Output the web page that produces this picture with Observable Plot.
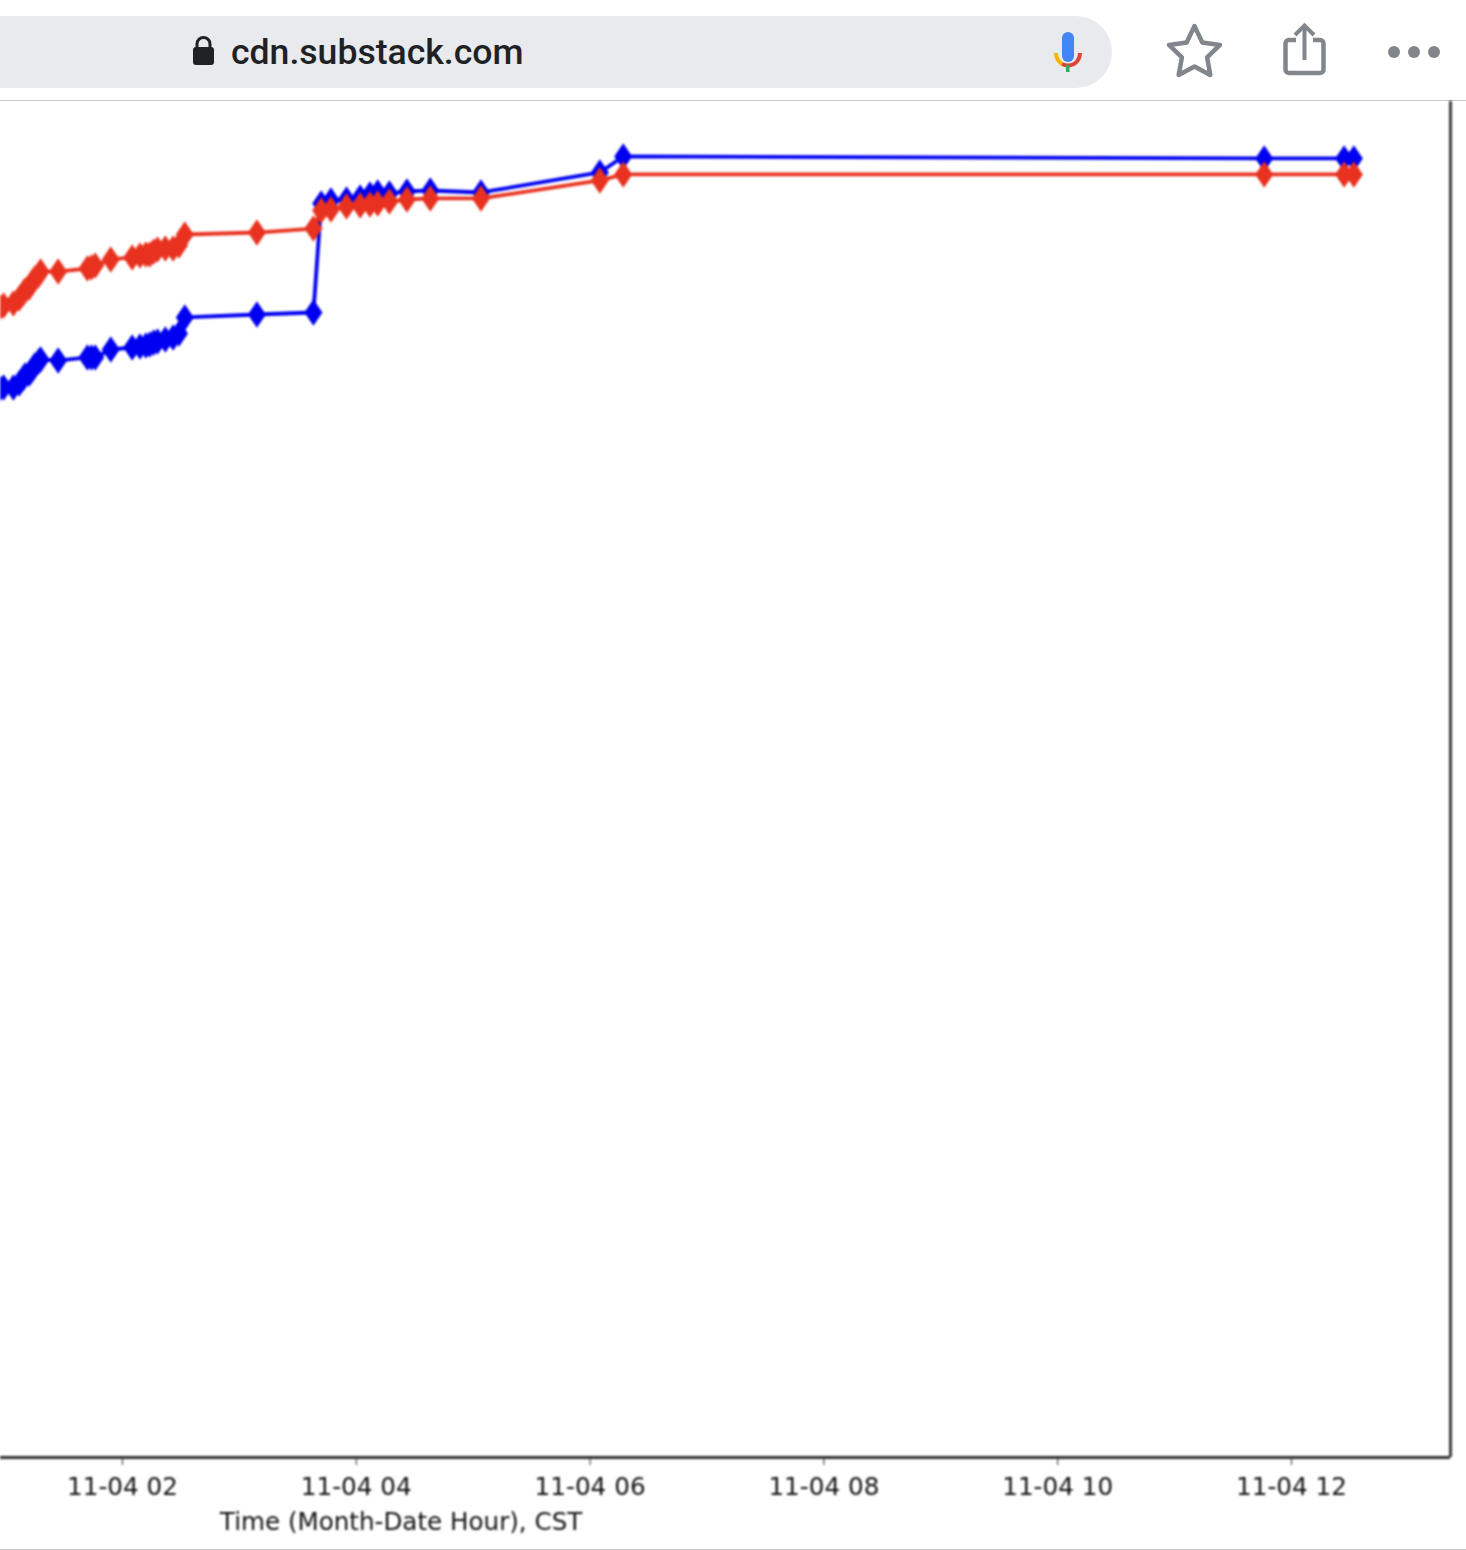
<!DOCTYPE html>
<html>
<head>
<meta charset="utf-8">
<script src="https://cdn.jsdelivr.net/npm/d3@7"></script>
<script src="https://cdn.jsdelivr.net/npm/@observablehq/plot@0.6"></script>
<style>
  html, body { margin: 0; padding: 0; background: #fff; }
  #page { position: relative; width: 1466px; height: 1550px; overflow: hidden; }
  #bar { position: relative; height: 100px; border-bottom: 1px solid #c9c9c9; box-sizing: content-box; }
  #pill { position: absolute; left: -40px; top: 16px; width: 1152px; height: 72px; background: #e8eaed; border-radius: 36px; }
  #url { position: absolute; left: 231px; top: 32px; font: 500 35.600px/40px Roboto, sans-serif; color: #202124; }
  #icons { position: absolute; left: 0; top: 0; }
  #chart { position: absolute; left: 0; top: 101px; filter: blur(0.8px); }
  #foot { position: absolute; left: 0; top: 1549px; width: 1466px; height: 1px; background: #c9c9c9; }
</style>
</head>
<body>
<div id="page">
  <div id="bar">
    <div id="pill"></div>
    <div id="url">cdn.substack.com</div>
    <svg id="icons" width="1466" height="100">
      <g fill="#202124">
        <rect x="193" y="47" width="21" height="18" rx="3"/>
        <path d="M197 48v-4a6.500 6.500 0 0 1 13 0v4" fill="none" stroke="#202124" stroke-width="3"/>
      </g>
      <rect x="1062" y="32" width="12" height="30" rx="6" fill="#4285f4"/>
      <path d="M1056 53a12 13 0 0 0 6 11" fill="none" stroke="#f4b400" stroke-width="4"/>
      <path d="M1062 64a12 10 0 0 0 12 0a12 13 0 0 0 6 -11" fill="none" stroke="#db4437" stroke-width="4"/>
      <rect x="1066" y="65" width="3.500" height="7" fill="#34a853"/>
      <path d="M1194.500 26l7.800 16.500 17.700 2.400-12.900 12.500 3.200 17.600-15.800-8.600-15.800 8.600 3.200-17.600-12.900-12.500 17.700-2.400z" fill="none" stroke="#80868b" stroke-width="4.500" stroke-linejoin="round"/>
      <path d="M1296 40h-7a3.500 3.500 0 0 0-3.500 3.500v26a3.500 3.500 0 0 0 3.500 3.500h31a3.500 3.500 0 0 0 3.500-3.500v-26a3.500 3.500 0 0 0-3.500-3.500h-7" fill="none" stroke="#80868b" stroke-width="4.500"/>
      <path d="M1304.500 27v33M1295 35l9.500-9.500 9.500 9.500" fill="none" stroke="#80868b" stroke-width="4"/>
      <g fill="#80868b"><circle cx="1394" cy="52" r="6"/><circle cx="1414" cy="52" r="6"/><circle cx="1434" cy="52" r="6"/></g>
    </svg>
  </div>
  <div id="chart"></div>
  <div id="foot"></div>
</div>
<script>
// Report times on 11-04, CST
const times = ["00:57","00:59","01:04","01:07","01:09","01:10","01:12","01:13","01:14","01:15","01:17","01:18","01:27","01:42","01:44","01:46","01:54",
  "02:05","02:09","02:12","02:14","02:16","02:18","02:22","02:26","02:29","02:32","03:09","03:38","03:42","03:47","03:55",
  "04:02","04:07","04:11","04:17","04:26","04:38","05:04","06:05","06:17","11:46","12:27","12:32"];
// Vote counts, thousands
const blueVotes = [1340.5,1341.8,1341.8,1346.8,1353,1356.8,1359,1361.8,1365.6,1369.4,1374.4,1376.9,1375.6,1379.4,1379.4,1379.4,1389.4,
  1391.9,1393.2,1394.4,1395.7,1398,1399.5,1402,1404.5,1409.5,1429.6,1433.3,1435.8,1572.5,1576.3,1577.5,
  1580,1583.8,1586.3,1585.1,1587.6,1588.8,1586.3,1611.4,1631.5,1629,1629,1629];
const redVotes = [1442.1,1444.6,1447.1,1453.4,1459.7,1463.4,1467,1470.9,1474.6,1478.5,1483,1487.2,1487.2,1491,1492.3,1494.8,1502.3,
  1504.8,1507.3,1508.6,1508.6,1512,1514.8,1516.1,1516.1,1519.8,1533.6,1536.1,1541.1,1563.7,1565,1568.7,
  1570,1571.3,1572.5,1575,1577.5,1578.8,1578.8,1601.4,1608.9,1608.9,1608.9,1608.9];
const tickHours = ["02:00","04:00","06:00","08:00","10:00","12:00"];
const axisTitle = "Time (Month-Date Hour), CST";

const toDate = (t) => new Date(`2020-11-04T${t}:00Z`);
const blue = times.map((t, i) => ({time: toDate(t), votes: blueVotes[i]}));
const red = times.map((t, i) => ({time: toDate(t), votes: redVotes[i]}));

const xDomain = [new Date("2020-11-04T00:57:24Z"), new Date("2020-11-04T13:21:36Z")];
const yDomain = [0, 1700.4];

// matplotlib-style thin diamond
const thinDiamond = {
  draw(ctx, size) {
    const r = Math.sqrt(size / Math.PI);
    ctx.moveTo(0, -r);
    ctx.lineTo(r * 0.68, 0);
    ctx.lineTo(0, r);
    ctx.lineTo(-r * 0.68, 0);
    ctx.closePath();
  }
};

const BLUE = "#0000f0", RED = "#e8321f", INK = "#111111", AXIS = "#2e2e2e";
const series = (data, color) => [
  Plot.line(data, {x: "time", y: "votes", stroke: color, strokeWidth: 3.800, curve: "linear", clip: true}),
  Plot.dot(data, {x: "time", y: "votes", fill: color, stroke: color, strokeWidth: 2, r: 11.500, symbol: thinDiamond, clip: true})
];

const chart = Plot.plot({
  width: 1466,
  height: 1448,
  marginTop: 0,
  marginLeft: 0,
  marginRight: 16,
  marginBottom: 92,
  style: {background: "transparent", overflow: "visible"},
  x: {type: "utc", domain: xDomain},
  y: {domain: yDomain, axis: null},
  marks: [
    ...series(blue, BLUE),
    ...series(red, RED),
    Plot.ruleY([0], {stroke: AXIS, strokeWidth: 2.800}),
    Plot.ruleX([xDomain[1]], {stroke: AXIS, strokeWidth: 2.800}),
    Plot.axisX({
      ticks: tickHours.map(toDate),
      tickFormat: d3.utcFormat("%m-%d %H"),
      tickSize: 8,
      tickPadding: 12,
      label: null,
      stroke: AXIS,
      fill: INK,
      fontFamily: "DejaVu Sans",
      fontSize: 24.700
    }),
    Plot.text([axisTitle], {
      x: () => new Date("2020-11-04T04:23:00Z"),
      frameAnchor: "bottom",
      dy: 72,
      fontFamily: "DejaVu Sans",
      fontSize: 24.600,
      fill: INK
    })
  ]
});
document.getElementById("chart").appendChild(chart);
</script>
</body>
</html>
